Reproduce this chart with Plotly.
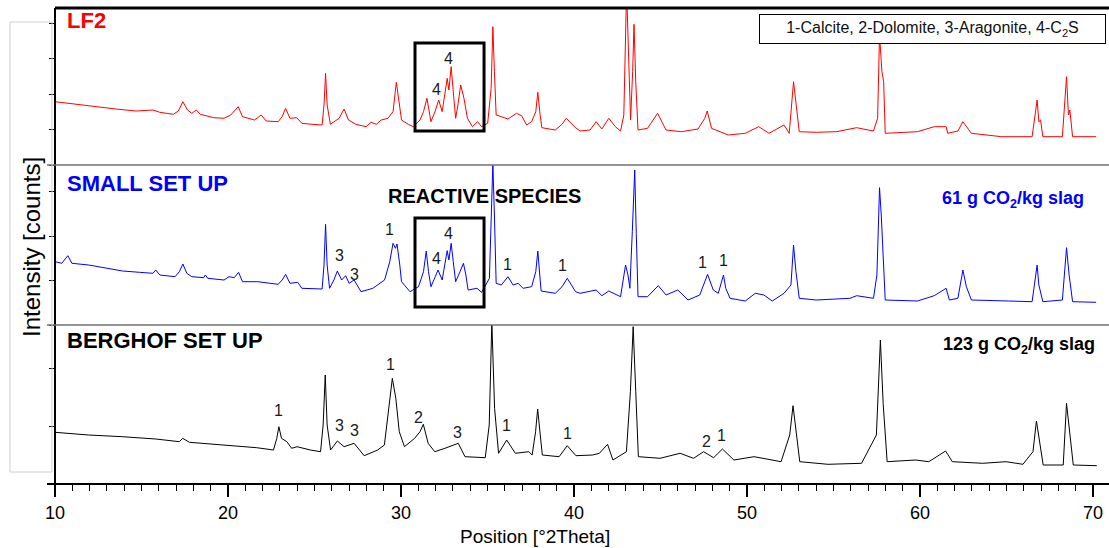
import plotly.graph_objects as go

# ---------------- data ----------------
lf2_2theta = [10.00, 11.17, 12.35, 13.52, 14.69, 15.66, 16.06, 16.84, 17.13, 17.39, 17.66, 17.91, 18.17, 18.40,
              19.18, 19.77, 20.16, 20.59, 20.84, 21.53, 21.92, 22.21, 22.90, 23.13, 23.33, 23.58, 23.97, 24.27,
              24.85, 25.44, 25.55, 25.64, 25.73, 25.92, 26.42, 26.71, 26.96, 27.39, 27.98, 28.27, 28.57, 28.86,
              29.25, 29.54, 29.73, 29.86, 30.03, 30.42, 30.72, 31.10, 31.30, 31.50, 31.73, 31.98, 32.18, 32.38,
              32.57, 32.67, 32.77, 32.90, 33.02, 33.16, 33.29, 33.45, 33.64, 33.84, 34.13, 34.43, 34.66, 35.01,
              35.21, 35.31, 35.40, 35.50, 35.80, 36.18, 36.68, 36.97, 37.26, 37.55, 37.79, 37.91, 38.02, 38.14,
              38.92, 39.31, 39.55, 40.09, 40.35, 40.93, 41.28, 41.61, 42.01, 42.39, 42.69, 42.88, 43.04, 43.16,
              43.27, 43.39, 43.47, 43.57, 43.70, 44.25, 44.83, 45.32, 46.20, 47.17, 47.56, 47.70, 47.95, 48.92,
              49.90, 50.68, 51.27, 52.14, 52.44, 52.69, 52.87, 53.02, 54.00, 55.17, 56.34, 57.31, 57.55, 57.66,
              57.80, 57.90, 57.99, 59.85, 60.82, 61.51, 61.60, 62.19, 62.48, 62.97, 64.72, 66.48, 66.77, 66.87,
              66.97, 67.10, 68.23, 68.47, 68.58, 68.66, 68.82, 70.18]
lf2_counts = [63.3, 60.7, 58.3, 56.0, 54.0, 55.0, 52.7, 50.7, 54.0, 63.3, 55.0, 51.7, 55.0, 50.7,
              47.3, 46.7, 50.0, 58.3, 48.3, 45.0, 50.0, 44.0, 43.3, 48.3, 56.7, 46.7, 47.3, 41.7,
              40.7, 40.0, 60.0, 91.7, 60.0, 40.7, 46.7, 56.0, 45.0, 40.7, 38.3, 42.7, 40.7, 45.0,
              46.7, 53.3, 82.7, 66.7, 45.0, 40.7, 38.3, 45.0, 53.3, 66.7, 43.3, 54.0, 65.0, 53.3,
              73.3, 86.7, 75.0, 98.3, 73.3, 46.7, 60.0, 80.0, 66.7, 46.7, 38.3, 43.3, 38.3, 41.7,
              76.7, 138.3, 93.3, 50.0, 48.3, 46.0, 51.7, 49.3, 40.0, 43.3, 53.3, 72.7, 53.3, 37.3,
              35.0, 40.7, 46.7, 37.3, 34.0, 35.0, 43.3, 36.0, 46.7, 38.3, 34.0, 50.0, 175.0, 93.3,
              45.0, 93.3, 140.7, 83.3, 35.0, 36.7, 51.7, 35.0, 33.3, 36.0, 46.7, 54.0, 36.7, 30.0,
              31.7, 38.3, 31.7, 40.0, 31.7, 83.3, 58.3, 33.3, 32.7, 33.3, 37.3, 34.0, 46.7, 130.0,
              93.3, 83.3, 31.7, 33.3, 38.3, 38.3, 31.7, 34.0, 43.3, 31.7, 28.3, 28.3, 65.0, 43.3,
              45.0, 28.3, 28.3, 88.3, 50.0, 55.0, 28.3, 28.3]

small_2theta = [10.00, 10.39, 10.74, 10.98, 11.95, 12.93, 13.91, 14.88, 15.66, 15.82, 16.06, 16.94, 17.19, 17.39,
                17.62, 17.91, 18.60, 18.69, 18.83, 19.77, 20.06, 20.36, 20.61, 20.84, 21.72, 22.90, 23.13, 23.33,
                23.58, 24.03, 24.27, 25.44, 25.55, 25.64, 25.73, 25.87, 26.12, 26.32, 26.57, 26.80, 27.00, 27.29,
                27.69, 28.37, 28.76, 29.05, 29.35, 29.54, 29.68, 29.77, 29.93, 30.03, 30.52, 31.01, 31.30, 31.46,
                31.59, 31.73, 31.98, 32.14, 32.38, 32.57, 32.67, 32.77, 32.90, 33.02, 33.16, 33.41, 33.61, 33.75,
                33.88, 34.39, 34.66, 35.11, 35.31, 35.40, 35.50, 35.80, 36.18, 36.48, 36.77, 37.06, 37.55, 37.79,
                37.91, 38.02, 38.10, 38.92, 39.31, 39.61, 40.09, 40.35, 41.28, 41.61, 42.01, 42.69, 42.84, 42.98,
                43.12, 43.23, 43.37, 43.51, 43.60, 43.70, 44.25, 44.87, 45.32, 46.00, 46.59, 47.27, 47.56, 47.72,
                48.05, 48.34, 48.64, 48.77, 49.02, 49.90, 50.48, 50.98, 51.46, 52.14, 52.54, 52.69, 52.83, 53.02,
                54.00, 55.95, 56.34, 57.31, 57.51, 57.66, 57.76, 57.84, 57.99, 59.85, 60.82, 61.51, 61.70, 62.19,
                62.48, 62.68, 62.97, 65.12, 66.48, 66.77, 66.87, 67.10, 68.23, 68.47, 68.62, 68.82, 70.18]
small_counts = [63.3, 61.7, 69.3, 61.7, 60.0, 56.7, 54.0, 52.7, 51.7, 55.0, 50.0, 48.3, 53.3, 61.0,
                51.7, 48.3, 47.3, 50.0, 46.7, 45.0, 48.3, 47.3, 52.7, 43.3, 43.3, 40.7, 45.0, 50.7,
                41.7, 42.7, 36.7, 36.0, 60.0, 100.7, 60.0, 36.7, 45.0, 54.0, 45.0, 49.3, 41.7, 45.0,
                33.3, 36.7, 41.7, 45.0, 63.3, 81.7, 76.7, 81.0, 60.0, 43.3, 33.3, 38.3, 53.3, 74.0,
                53.3, 38.3, 48.3, 55.0, 45.0, 66.7, 74.3, 65.0, 81.7, 63.3, 43.3, 53.3, 61.7, 50.0,
                35.0, 36.7, 32.7, 46.7, 162.0, 110.0, 41.7, 40.0, 48.3, 40.0, 41.7, 36.7, 38.3, 53.3,
                74.0, 50.0, 34.0, 31.7, 38.3, 46.7, 33.3, 31.7, 35.0, 29.3, 34.0, 28.3, 46.7, 60.0,
                50.0, 36.7, 93.3, 155.0, 91.7, 28.3, 28.3, 39.3, 30.0, 35.0, 25.0, 30.0, 43.3, 50.7,
                35.0, 31.7, 50.0, 36.7, 26.7, 24.0, 31.7, 30.0, 24.0, 31.7, 40.0, 80.0, 53.3, 26.7,
                25.0, 26.7, 29.3, 26.7, 50.0, 137.3, 110.0, 81.7, 25.0, 24.0, 29.3, 36.7, 25.0, 26.7,
                55.0, 38.3, 25.0, 24.0, 23.3, 60.0, 40.0, 23.3, 25.0, 77.3, 50.0, 23.3, 22.7]

berghof_2theta = [10.00, 11.94, 13.89, 15.83, 17.19, 17.38, 17.77, 19.71, 21.66, 22.63, 22.82, 22.94, 23.09, 23.40,
                  23.68, 23.99, 24.76, 25.35, 25.50, 25.62, 25.73, 25.93, 26.32, 26.71, 27.29, 27.87, 28.65, 29.04,
                  29.31, 29.50, 29.70, 29.90, 30.20, 30.79, 31.10, 31.29, 31.57, 31.95, 32.54, 33.31, 33.70, 34.87,
                  35.10, 35.25, 35.41, 35.64, 36.11, 36.61, 37.39, 37.58, 37.78, 37.90, 38.05, 38.17, 39.14, 39.61,
                  40.11, 41.08, 41.47, 41.94, 42.25, 43.03, 43.26, 43.42, 43.57, 43.72, 44.97, 46.13, 46.91, 47.49,
                  48.07, 48.58, 49.24, 50.41, 51.97, 52.47, 52.66, 52.86, 53.05, 54.68, 56.62, 57.48, 57.71, 57.87,
                  58.10, 59.73, 60.51, 61.48, 61.87, 63.62, 64.98, 65.95, 66.53, 66.73, 66.92, 67.12, 68.28, 68.47,
                  68.67, 68.86, 70.22]
berghof_counts = [51.7, 49.0, 47.3, 45.0, 42.3, 45.7, 41.7, 39.0, 36.3, 34.0, 45.7, 57.3, 45.7, 42.3,
                  35.7, 37.3, 34.0, 32.3, 59.0, 109.0, 59.0, 34.0, 43.0, 37.3, 40.7, 28.3, 34.0, 39.0,
                  75.7, 105.7, 85.7, 52.3, 37.3, 45.7, 52.3, 59.7, 40.7, 32.3, 35.7, 40.7, 27.3, 26.3,
                  59.0, 162.0, 75.7, 30.7, 44.0, 30.7, 32.3, 29.0, 52.3, 75.0, 49.0, 29.0, 27.3, 38.3,
                  28.3, 29.0, 30.7, 39.7, 24.0, 32.3, 92.3, 157.3, 92.3, 27.3, 25.7, 30.7, 25.7, 32.3,
                  26.3, 35.0, 24.0, 27.3, 22.3, 49.0, 78.3, 49.0, 22.3, 19.7, 20.7, 49.0, 144.0, 80.7,
                  22.3, 24.0, 22.3, 33.0, 22.3, 20.7, 22.3, 19.7, 32.3, 63.0, 40.7, 19.0, 19.0, 80.7,
                  49.0, 19.0, 18.3]

# peak labels (phase index, 2theta, label height in counts)
lf2_labels = ["4", "4"]
lf2_label_2theta = [32.08, 32.77]
lf2_label_counts = [76, 107]

small_labels = ["3", "3", "1", "4", "4", "1", "1", "1", "1"]
small_label_2theta = [26.42, 27.34, 29.36, 32.08, 32.72, 36.18, 39.36, 47.40, 48.67]
small_label_counts = [70, 51, 96, 67, 92, 61, 60, 63, 65]

berghof_labels = ["1", "3", "3", "1", "2", "3", "1", "1", "2", "1"]
berghof_label_2theta = [22.89, 26.42, 27.34, 29.42, 31.04, 33.29, 36.07, 39.60, 47.63, 48.55]
berghof_label_counts = [74, 59, 54, 120, 67, 52, 59, 51, 43, 49]

# highlighted C2S region (2theta range, counts range per pattern)
c2s_box_2theta = [30.81, 34.80]
c2s_box_lf2 = [34, 122]
c2s_box_small = [18, 107]

x_ticks = [10, 20, 30, 40, 50, 60, 70]

# ---------------- figure ----------------
W, H = 1109, 548
ML, MR, MT, MB = 55, 0, 8, 64
PW, PH = W - ML - MR, H - MT - MB


def px(xp):
    return (xp - ML) / PW


def py(yp):
    return (H - MB - yp) / PH


FONT = "Liberation Sans, Arial, sans-serif"
sep_low = py(325)
sep_high = py(165)

fig = go.Figure()
fig.add_trace(go.Scatter(x=berghof_2theta, y=berghof_counts, mode="lines", xaxis="x", yaxis="y",
                         line=dict(color="#000000", width=1), showlegend=False, hoverinfo="skip"))
fig.add_trace(go.Scatter(x=small_2theta, y=small_counts, mode="lines", xaxis="x", yaxis="y2",
                         line=dict(color="#0000ff", width=1), showlegend=False, hoverinfo="skip"))
fig.add_trace(go.Scatter(x=lf2_2theta, y=lf2_counts, mode="lines", xaxis="x", yaxis="y3",
                         line=dict(color="#ff0000", width=1), showlegend=False, hoverinfo="skip"))

yax_common = dict(showgrid=False, zeroline=False, showticklabels=False, ticks="outside",
                  ticklen=5, tickwidth=1, tickcolor="#000", showline=False, anchor="x", fixedrange=True)

fig.update_layout(
    width=W, height=H, margin=dict(l=ML, r=MR, t=MT, b=MB),
    paper_bgcolor="white", plot_bgcolor="white",
    font=dict(family=FONT, color="#000"),
    xaxis=dict(range=[10, 10 + PW / 17.3], tickvals=x_ticks, ticks="outside", ticklen=12, tickwidth=1.5,
               tickcolor="#000", showgrid=False, zeroline=False, showline=False,
               tickfont=dict(size=18, family=FONT, color="#000"),
               minor=dict(dtick=1, ticks="outside", ticklen=6, tickwidth=1, tickcolor="#000", showgrid=False),
               anchor="y"),
    yaxis=dict(domain=[0, sep_low], range=[0, 159], tick0=0, dtick=58, **yax_common),
    yaxis2=dict(domain=[sep_low, sep_high], range=[0, 160], tick0=0, dtick=44.4, **yax_common),
    yaxis3=dict(domain=[sep_high, 1], range=[0, 157], tick0=0, dtick=35.5, **yax_common),
)

shapes = []
# frame lines
shapes.append(dict(type="line", xref="paper", yref="paper", x0=0, x1=1, y0=1, y1=1,
                   line=dict(color="#000", width=3)))
shapes.append(dict(type="line", xref="paper", yref="paper", x0=0, x1=0, y0=0, y1=1,
                   line=dict(color="#000", width=2)))
shapes.append(dict(type="line", xref="paper", yref="paper", x0=px(47), x1=1, y0=0, y1=0,
                   line=dict(color="#000", width=2)))
for s in (sep_low, sep_high):
    shapes.append(dict(type="line", xref="paper", yref="paper", x0=px(47), x1=1, y0=s, y1=s,
                       line=dict(color="#707070", width=1.5)))
# y title frame
shapes.append(dict(type="rect", xref="paper", yref="paper", x0=px(10), x1=px(52), y0=py(472), y1=py(22),
                   line=dict(color="#cfcfcf", width=1)))
# C2S highlight boxes
shapes.append(dict(type="rect", xref="x", yref="y3", x0=c2s_box_2theta[0], x1=c2s_box_2theta[1],
                   y0=c2s_box_lf2[0], y1=c2s_box_lf2[1], line=dict(color="#000", width=3)))
shapes.append(dict(type="rect", xref="x", yref="y2", x0=c2s_box_2theta[0], x1=c2s_box_2theta[1],
                   y0=c2s_box_small[0], y1=c2s_box_small[1], line=dict(color="#000", width=3)))
fig.update_layout(shapes=shapes)

ann = []
for labs, xs, ys, yref in ((lf2_labels, lf2_label_2theta, lf2_label_counts, "y3"),
                           (small_labels, small_label_2theta, small_label_counts, "y2"),
                           (berghof_labels, berghof_label_2theta, berghof_label_counts, "y")):
    for t, xv, yv in zip(labs, xs, ys):
        ann.append(dict(x=xv, y=yv, xref="x", yref=yref, text=t, showarrow=False,
                        font=dict(size=16, color="#1a1a1a", family=FONT), xanchor="center", yanchor="middle"))

ann += [
    dict(x=px(65), y=py(20), xref="paper", yref="paper", text="<b>LF2</b>", showarrow=False,
         xanchor="left", yanchor="middle", font=dict(size=22, color="#ff0000", family=FONT)),
    dict(x=px(65), y=py(183), xref="paper", yref="paper", text="<b>SMALL SET UP</b>", showarrow=False,
         xanchor="left", yanchor="middle", font=dict(size=22, color="#0000ff", family=FONT)),
    dict(x=px(65), y=py(340), xref="paper", yref="paper", text="<b>BERGHOF SET UP</b>", showarrow=False,
         xanchor="left", yanchor="middle", font=dict(size=22, color="#000", family=FONT)),
    dict(x=px(386), y=py(196), xref="paper", yref="paper", text="<b>REACTIVE SPECIES</b>", showarrow=False,
         xanchor="left", yanchor="middle", font=dict(size=20, color="#000", family=FONT)),
    dict(x=px(1086), y=py(199), xref="paper", yref="paper", text="<b>61 g CO<sub>2</sub>/kg slag</b>",
         showarrow=False, xanchor="right", yanchor="middle", font=dict(size=18, color="#0000ff", family=FONT)),
    dict(x=px(1097), y=py(346), xref="paper", yref="paper", text="<b>123 g CO<sub>2</sub>/kg slag</b>",
         showarrow=False, xanchor="right", yanchor="middle", font=dict(size=18, color="#000", family=FONT)),
    dict(x=px(932.5), y=py(29), xref="paper", yref="paper",
         text="1-Calcite, 2-Dolomite, 3-Aragonite, 4-C<sub>2</sub>S", showarrow=False,
         xanchor="center", yanchor="middle", width=343, height=26, bgcolor="white",
         bordercolor="#000", borderwidth=1, borderpad=1, font=dict(size=16, color="#111", family=FONT)),
    dict(x=px(31), y=py(247), xref="paper", yref="paper", text="Intensity [counts]", showarrow=False,
         textangle=-90, xanchor="center", yanchor="middle", font=dict(size=24, color="#000", family=FONT)),
    dict(x=px(535), y=py(536), xref="paper", yref="paper", text="Position [°2Theta]", showarrow=False,
         xanchor="center", yanchor="middle", font=dict(size=19, color="#000", family=FONT)),
]
fig.update_layout(annotations=ann)

fig.write_html("out.html", config={"displayModeBar": False},
               post_script="document.body.style.margin='0px';document.body.style.overflow='hidden';")
